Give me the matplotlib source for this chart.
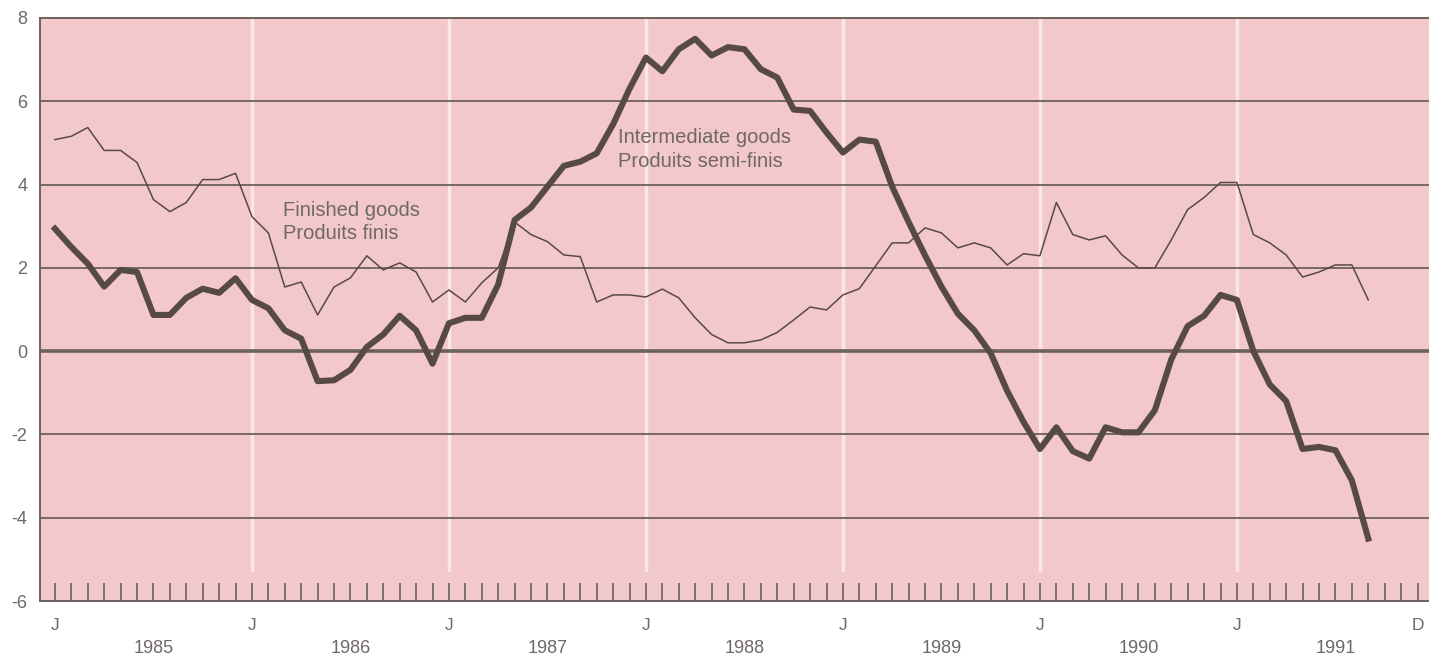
import numpy as np
import matplotlib
matplotlib.use('Agg')
import matplotlib.pyplot as plt

plt.rcParams['font.family'] = ['Liberation Sans', 'DejaVu Sans']

# monthly values, Jan 1985 .. Sep 1991
intermediate = [2.94, 2.5, 2.1, 1.55, 1.95, 1.9, 0.87, 0.87, 1.28, 1.5, 1.4, 1.75,
                1.23, 1.03, 0.5, 0.3, -0.72, -0.7, -0.45, 0.1, 0.4, 0.85, 0.5, -0.3,
                0.67, 0.8, 0.8, 1.6, 3.15, 3.45, 3.95, 4.45, 4.55, 4.75, 5.45, 6.3,
                7.05, 6.72, 7.25, 7.5, 7.1, 7.3, 7.25, 6.77, 6.57, 5.8, 5.77, 5.25,
                4.77, 5.08, 5.03, 3.95, 3.1, 2.3, 1.55, 0.9, 0.5, -0.05, -0.95, -1.7,
                -2.35, -1.83, -2.4, -2.58, -1.83, -1.95, -1.95, -1.42, -0.2, 0.6, 0.85, 1.35,
                1.23, 0.0, -0.8, -1.2, -2.35, -2.3, -2.38, -3.1, -4.5]
finished = [5.08, 5.16, 5.37, 4.82, 4.82, 4.53, 3.64, 3.35, 3.57, 4.12, 4.12, 4.27,
            3.23, 2.84, 1.54, 1.66, 0.87, 1.54, 1.76, 2.29, 1.95, 2.12, 1.9, 1.18,
            1.47, 1.18, 1.64, 2.0, 3.1, 2.8, 2.63, 2.31, 2.27, 1.18, 1.35, 1.35,
            1.3, 1.49, 1.28, 0.8, 0.4, 0.2, 0.2, 0.27, 0.45, 0.75, 1.06, 0.99,
            1.35, 1.5, 2.05, 2.6, 2.6, 2.96, 2.84, 2.48, 2.6, 2.48, 2.07, 2.34,
            2.29, 3.57, 2.8, 2.67, 2.77, 2.31, 2.0, 2.0, 2.67, 3.4, 3.69, 4.05,
            4.05, 2.8, 2.6, 2.31, 1.78, 1.9, 2.07, 2.07, 1.23]
years = ['1985', '1986', '1987', '1988', '1989', '1990', '1991']
yticks = [-6, -4, -2, 0, 2, 4, 6, 8]

ink = '#574a46'
grid = '#6c605c'
txt = '#6e6866'
pink = '#f3c8cb'

fig = plt.figure(figsize=(14.29, 6.57), dpi=100)
ax = fig.add_axes([40 / 1429, 1 - 601 / 657, 1 - 40 / 1429, (601 - 18) / 657])
ax.set_facecolor(pink)
ax.set_xlim(-0.91, 83.7)
ax.set_ylim(-6, 8)

# january separators
for k in range(1, len(years)):
    ax.plot([12 * k, 12 * k], [-5.25, 8], color='#fae6e8', lw=2.5, zorder=1)

for v in yticks[1:-1]:
    ax.axhline(v, color=grid, lw=2.6 if v == 0 else 1.3, zorder=2)

m = np.arange(len(intermediate))
ax.plot(m, finished, color=ink, lw=1.1, zorder=3)
ax.plot(m, intermediate, color=ink, lw=4.4, zorder=4, solid_joinstyle='round')

ax.text(13.9, 3.37, 'Finished goods', color=txt, fontsize=14.5, va='center')
ax.text(13.9, 2.82, 'Produits finis', color=txt, fontsize=14.5, va='center')
ax.text(34.3, 5.13, 'Intermediate goods', color=txt, fontsize=14.5, va='center')
ax.text(34.3, 4.55, 'Produits semi-finis', color=txt, fontsize=14.5, va='center')

ax.spines['right'].set_visible(False)
for s in ['top', 'left', 'bottom']:
    ax.spines[s].set_color(grid)
    ax.spines[s].set_linewidth(1.4)

months = np.arange(84)
ax.set_xticks(months)
ax.set_xticklabels(['J' if i % 12 == 0 else ('D' if i == 83 else '') for i in months])
ax.tick_params(axis='x', direction='in', length=13, width=1.2, color=grid,
               labelcolor=txt, labelsize=12.5, pad=12)
ax.set_yticks(yticks)
ax.set_yticklabels([str(v) for v in yticks])
ax.tick_params(axis='y', length=0, labelcolor=txt, labelsize=13, pad=9)

for k, y in enumerate(years):
    ax.text(6 + 12 * k, -7.15, y, color=txt, fontsize=13, ha='center', va='center',
            clip_on=False)

fig.savefig('out.png', dpi=100, facecolor='white')
